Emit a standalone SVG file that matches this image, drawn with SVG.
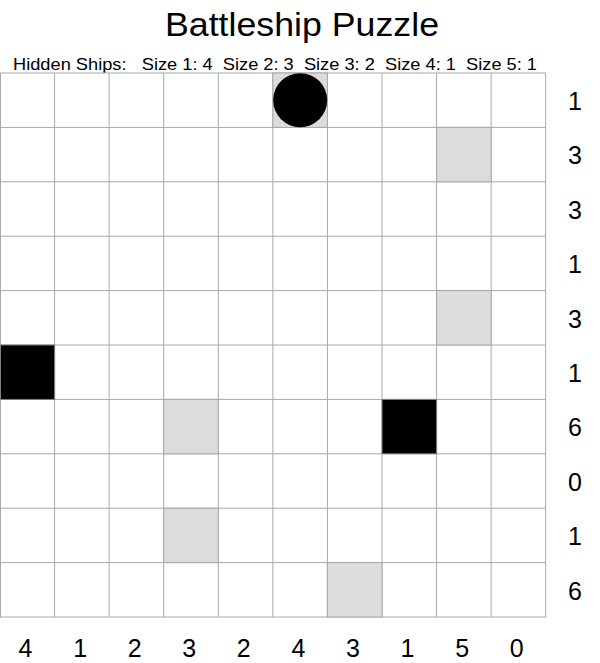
<svg xmlns="http://www.w3.org/2000/svg" width="600" height="663" viewBox="0 0 600 663">
<style>
text{font-family:"Liberation Sans",Arial,sans-serif;fill:#000}
.t{font-size:33px}
.s{font-size:17px}
.n{font-size:25px;text-anchor:middle}
.c{fill:#fff;stroke:#a8a8a8;stroke-width:1}
.g{fill:#dcdcdc;stroke:#a8a8a8;stroke-width:1}
.b{fill:#000;stroke:#808080;stroke-width:1}
</style>
<rect width="600" height="663" fill="#fff"/>
<text class="t" x="165" y="35.5" textLength="274" lengthAdjust="spacingAndGlyphs">Battleship Puzzle</text>
<text class="s" x="13" y="69.5" xml:space="preserve" textLength="524" lengthAdjust="spacingAndGlyphs">Hidden Ships:   Size 1: 4  Size 2: 3  Size 3: 2  Size 4: 1  Size 5: 1</text>
<g id="grid">
<rect class="c" x="0.5" y="73" width="545.2" height="544"/>
<path d="M54.6 73V617M109.1 73V617M163.7 73V617M218.3 73V617M272.9 73V617M327.4 73V617M382 73V617M436.6 73V617M491.1 73V617M0 127.4H545.7M0 181.8H545.7M0 236.2H545.7M0 290.6H545.7M0 345H545.7M0 399.4H545.7M0 453.8H545.7M0 508.2H545.7M0 562.6H545.7" fill="none" stroke="#a8a8a8" stroke-width="1"/>
</g>
<g id="cell-0-5"><rect class="g" x="272.9" y="73" width="54.5" height="54.4"/><circle cx="300.15" cy="100.2" r="27" fill="#000"/></g>
<g id="cell-1-8"><rect class="g" x="436.6" y="127.4" width="54.5" height="54.4"/></g>
<g id="cell-4-8"><rect class="g" x="436.6" y="290.6" width="54.5" height="54.4"/></g>
<g id="cell-5-0"><rect class="b" x="0.5" y="345" width="54.1" height="54.4"/></g>
<g id="cell-6-3"><rect class="g" x="163.7" y="399.4" width="54.6" height="54.4"/></g>
<g id="cell-6-7"><rect class="b" x="382" y="399.4" width="54.6" height="54.4"/></g>
<g id="cell-8-3"><rect class="g" x="163.7" y="508.2" width="54.6" height="54.4"/></g>
<g id="cell-9-6"><rect class="g" x="327.4" y="562.6" width="54.6" height="54.4"/></g>
<g id="row-counts">
<text class="n" x="575" y="110">1</text>
<text class="n" x="575" y="164.4">3</text>
<text class="n" x="575" y="218.8">3</text>
<text class="n" x="575" y="273.2">1</text>
<text class="n" x="575" y="327.6">3</text>
<text class="n" x="575" y="382">1</text>
<text class="n" x="575" y="436.4">6</text>
<text class="n" x="575" y="490.8">0</text>
<text class="n" x="575" y="545.2">1</text>
<text class="n" x="575" y="599.6">6</text>
</g>
<g id="col-counts">
<text class="n" x="25.5" y="656.5">4</text>
<text class="n" x="80.1" y="656.5">1</text>
<text class="n" x="134.7" y="656.5">2</text>
<text class="n" x="189.3" y="656.5">3</text>
<text class="n" x="243.8" y="656.5">2</text>
<text class="n" x="298.4" y="656.5">4</text>
<text class="n" x="353" y="656.5">3</text>
<text class="n" x="407.5" y="656.5">1</text>
<text class="n" x="462.1" y="656.5">5</text>
<text class="n" x="516.7" y="656.5">0</text>
</g>
</svg>
